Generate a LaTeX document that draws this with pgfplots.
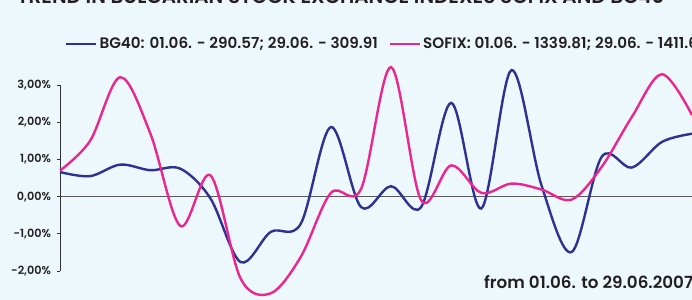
\documentclass[border=0pt]{standalone}
\usepackage{fontspec}
\setmainfont{Poppins}[BoldFont={Poppins SemiBold}]
\usepackage{pgfplots}
\pgfplotsset{compat=1.18}
\definecolor{bgc}{HTML}{EDF8FD}
\definecolor{bgblue}{HTML}{2E3192}
\definecolor{sofpink}{HTML}{EC268F}
\definecolor{txt}{HTML}{231F20}

\pgfplotstableread{
x y
0 0.66
1 0.55
2 0.86
3 0.71
4 0.75
5 -0.05
6 -1.76
7 -0.95
8 -0.73
9 1.87
10 -0.28
11 0.28
12 -0.28
13 2.52
14 -0.32
15 3.40
16 0.30
17 -1.49
18 1.07
19 0.78
20 1.47
21 1.69
}\bgdata

\pgfplotstableread{
x y
0 0.70
1 1.50
2 3.21
3 1.70
4 -0.79
5 0.57
6 -2.20
7 -2.60
8 -1.62
9 0.10
10 0.20
11 3.48
12 -0.10
13 0.84
14 0.10
15 0.35
16 0.19
17 -0.08
18 0.80
19 2.14
20 3.29
21 2.19
}\sofixdata

\begin{document}
\begin{tikzpicture}
\fill[bgc] (0,0) rectangle (692bp,-300bp);
\node[anchor=base west, font=\bfseries\fontsize{20}{20}\selectfont, text=txt, inner sep=0] at (17bp,-3.5bp) {TREND IN BULGARIAN STOCK EXCHANGE INDEXES SOFIX AND BG40};
\begin{axis}[
  at={(60bp,-271bp)}, anchor=south west,
  scale only axis, width=632bp, height=186bp,
  xmin=0, xmax=21, ymin=-2, ymax=3,
  clip=false,
  axis y line*=left,
  axis x line*=middle,
  xtick=\empty,
  ytick={-2,-1,0,1,2,3},
  yticklabels={{-2,00\%},{-1,00\%},{0,00\%},{1,00\%},{2,00\%},{3,00\%}},
  tick align=outside,
  major tick length=3bp,
  every tick/.style={black!80, line width=0.8bp},
  y axis line style={black!80, line width=0.8bp},
  x axis line style={black!65, line width=0.8bp},
  yticklabel style={font=\bfseries\fontsize{11.3}{11.3}\selectfont, text=txt, xshift=-2.5bp},
  legend columns=2,
  legend style={at={(0.0079,1.2204)}, anchor=west, draw=none, fill=none,
    inner xsep=0pt, inner ysep=0pt,
    font=\bfseries\fontsize{15.2}{15.2}\selectfont, text=txt,
    /tikz/every even column/.append style={column sep=9bp}},
  legend image code/.code={\draw[#1] (0bp,0bp) -- (30bp,0bp);},
]
\addplot[bgblue, line width=2.4bp, smooth, tension=0.55] table[x=x,y=y] {\bgdata};
\addlegendentry{BG40: 01.06. - 290.57; 29.06. - 309.91}
\addplot[sofpink, line width=2.4bp, smooth, tension=0.55] table[x=x,y=y] {\sofixdata};
\addlegendentry{SOFIX: 01.06. - 1339.81; 29.06. - 1411.61}
\end{axis}
\node[anchor=base west, font=\bfseries\fontsize{16.8}{16.8}\selectfont, text=txt, inner sep=0] at (484bp,-288bp) {from 01.06. to 29.06.2007};
\pgfresetboundingbox
\useasboundingbox (0,0) rectangle (692bp,-300bp);
\end{tikzpicture}
\end{document}
